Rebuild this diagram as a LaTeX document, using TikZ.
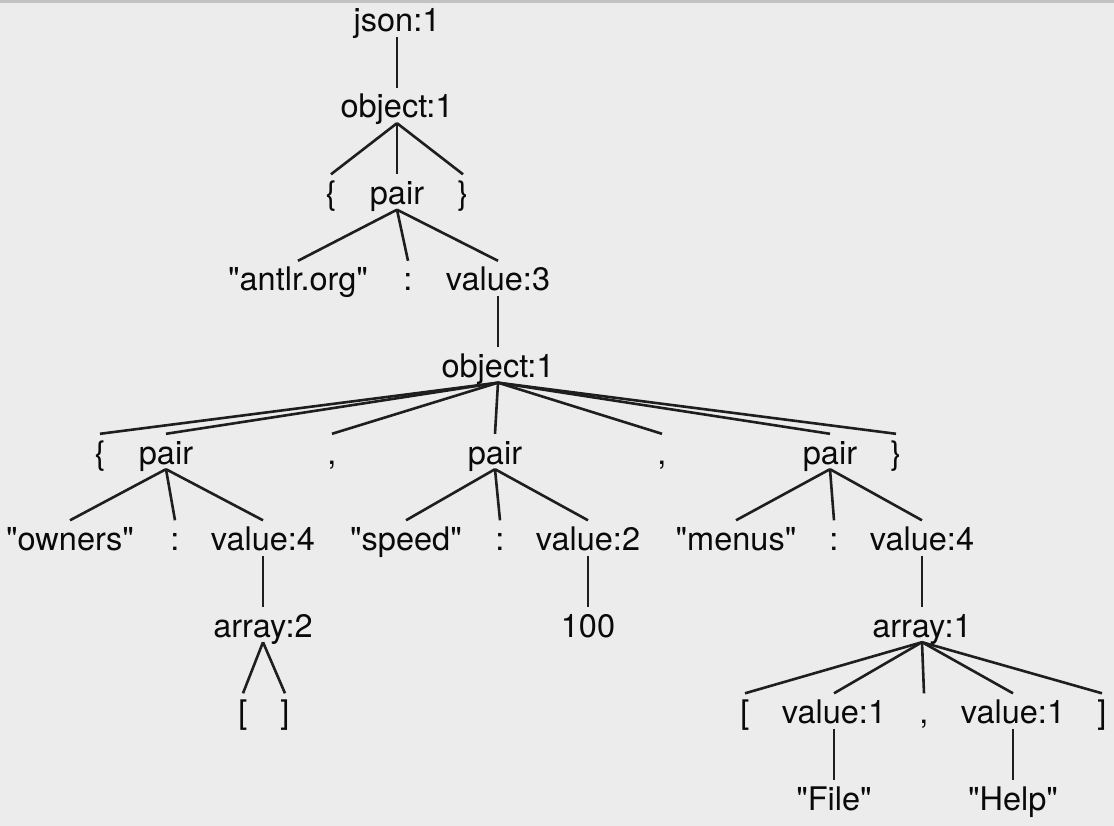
\documentclass[tikz,border=0pt]{standalone}
\usepackage{fontspec}
\setmainfont{TeX Gyre Heros}[Ligatures=TeXOff]
\definecolor{bgc}{HTML}{ECECEC}
\definecolor{topc}{HTML}{C2C2C2}
\definecolor{linec}{HTML}{1E1E1E}
\definecolor{txtc}{HTML}{0A0A0A}
\tikzset{
  tn/.style={anchor=base, inner sep=0pt, text height=30pt, text depth=5pt, text=txtc, font=\fontsize{32.5}{38}\selectfont},
  edge/.style={draw=linec, line width=2.6pt}
}
\begin{document}
\begin{tikzpicture}[x=1pt, y=-1pt]
\fill[bgc] (0,0) rectangle (1114,826);
\fill[topc] (0,0) rectangle (1114,3);
\useasboundingbox (0,0) rectangle (1114,826);
% level 0-4
\node[tn] (json) at (397,32) {json:1};
\node[tn] (o1) at (397,118) {object:1};
\node[tn] (lb1) at (331,204.5) {\{};
\node[tn] (p1) at (397,204.5) {pair};
\node[tn] (rb1) at (463,204.5) {\}};
\node[tn] (antlr) at (298,291) {"antlr.org"};
\node[tn] (c1) at (408,291) {:};
\node[tn] (v3) at (498,291) {value:3};
\node[tn] (o2) at (498,377.5) {object:1};
% level 5
\node[tn] (lb2) at (100,464) {\{};
\node[tn] (p2) at (166,464) {pair};
\node[tn] (cm1) at (332,464) {,};
\node[tn] (p3) at (495,464) {pair};
\node[tn] (cm2) at (662,464) {,};
\node[tn] (p4) at (830,464) {pair};
\node[tn] (rb2) at (896,464) {\}};
% level 6
\node[tn] (owners) at (70,550.5) {"owners"};
\node[tn] (c2) at (175,550.5) {:};
\node[tn] (v4a) at (263,550.5) {value:4};
\node[tn] (speed) at (406,550.5) {"speed"};
\node[tn] (c3) at (500,550.5) {:};
\node[tn] (v2) at (588,550.5) {value:2};
\node[tn] (menus) at (736,550.5) {"menus"};
\node[tn] (c4) at (834,550.5) {:};
\node[tn] (v4b) at (922,550.5) {value:4};
% level 7
\node[tn] (arr2) at (263,637) {array:2};
\node[tn] (n100) at (588,637) {100};
\node[tn] (arr1) at (922,637) {array:1};
% level 8
\node[tn] (lb3) at (243,723.5) {{[}};
\node[tn] (rb3) at (285,723.5) {{]}};
\node[tn] (lb4) at (745,723.5) {{[}};
\node[tn] (v1a) at (834,723.5) {value:1};
\node[tn] (cm3) at (924,723.5) {,};
\node[tn] (v1b) at (1013,723.5) {value:1};
\node[tn] (rb4) at (1102,723.5) {{]}};
% level 9
\node[tn] (file) at (834,810) {"File"};
\node[tn] (help) at (1013,810) {"Help"};
% edges
\path[edge] (json.south) -- (o1.north);
\foreach \c in {lb1,p1,rb1} \path[edge] (o1.south) -- (\c.north);
\foreach \c in {antlr,c1,v3} \path[edge] (p1.south) -- (\c.north);
\path[edge] (v3.south) -- (o2.north);
\foreach \c in {lb2,p2,cm1,p3,cm2,p4,rb2} \path[edge] (o2.south) -- (\c.north);
\foreach \c in {owners,c2,v4a} \path[edge] (p2.south) -- (\c.north);
\foreach \c in {speed,c3,v2} \path[edge] (p3.south) -- (\c.north);
\foreach \c in {menus,c4,v4b} \path[edge] (p4.south) -- (\c.north);
\path[edge] (v4a.south) -- (arr2.north);
\path[edge] (v2.south) -- (n100.north);
\path[edge] (v4b.south) -- (arr1.north);
\foreach \c in {lb3,rb3} \path[edge] (arr2.south) -- (\c.north);
\foreach \c in {lb4,v1a,cm3,v1b,rb4} \path[edge] (arr1.south) -- (\c.north);
\path[edge] (v1a.south) -- (file.north);
\path[edge] (v1b.south) -- (help.north);
\end{tikzpicture}
\end{document}
